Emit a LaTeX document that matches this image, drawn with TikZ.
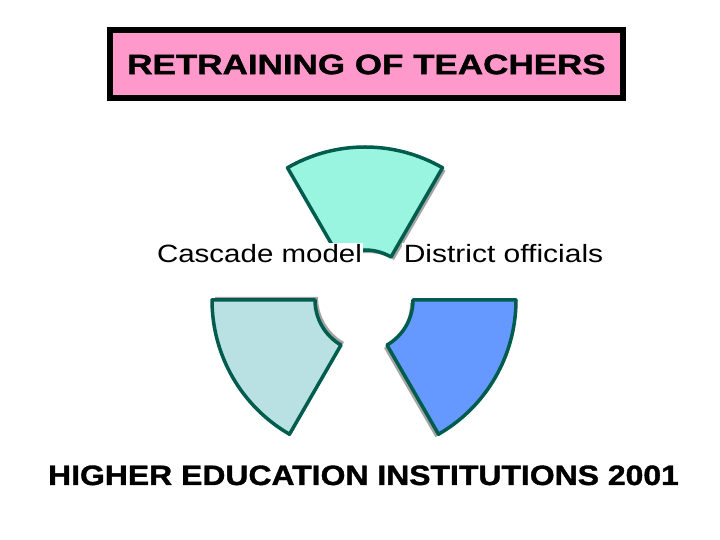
\documentclass[tikz,border=0pt]{standalone}
\usepackage{fontspec}
\setmainfont{Liberation Sans}
\newfontfamily\negrita{Liberation Sans Bold}[FakeBold=1.2]
\usepackage{tikz}
\definecolor{rosa}{RGB}{255,153,204}
\definecolor{verdeborde}{RGB}{0,92,76}
\definecolor{aguamarina}{RGB}{153,245,224}
\definecolor{celeste}{RGB}{185,224,227}
\definecolor{azul}{RGB}{102,153,255}
\definecolor{gris}{RGB}{165,165,165}

\begin{document}
\begin{tikzpicture}[x=1pt,y=1pt,
		pieza/.style={draw=verdeborde,line width=3.5pt,line join=round},
		sombra/.style={fill=gris},
		etiqueta/.style={fill=white,inner sep=1.5pt,anchor=base,font=\fontsize{25}{30}\selectfont},
		titular/.style={font=\negrita\fontsize{28}{34}\selectfont}]
		\useasboundingbox (0,0) rectangle (720,540);
		% Titulo
		\node(titulo)[titular,draw=black,line width=6pt,fill=rosa,minimum width=513pt,minimum height=68pt,inner sep=0pt] at (366.5,475.5) {\scalebox{1.25}[1]{RETRAINING OF TEACHERS}};
		% Pieza superior
		\fill[sombra] (368,235) ++(60:155) arc[start angle=60,end angle=120,radius=155] -- ++(120:-103) arc[start angle=120,end angle=60,radius=52] -- cycle;
		\draw[pieza,fill=aguamarina] (365,238) ++(60:155) arc[start angle=60,end angle=120,radius=155] -- ++(120:-103) arc[start angle=120,end angle=60,radius=52] -- cycle;
		% Pieza izquierda
		\fill[sombra] (370,243) ++(180:155) arc[start angle=180,end angle=240,radius=155] -- ++(240:-103) arc[start angle=240,end angle=180,radius=52] -- cycle;
		\draw[pieza,fill=celeste] (367,240) ++(180:155) arc[start angle=180,end angle=240,radius=155] -- ++(240:-103) arc[start angle=240,end angle=180,radius=52] -- cycle;
		% Pieza derecha
		\fill[sombra] (358,237) ++(300:155) arc[start angle=300,end angle=360,radius=155] -- ++(360:-103) arc[start angle=360,end angle=300,radius=52] -- cycle;
		\draw[pieza,fill=azul] (361,240) ++(300:155) arc[start angle=300,end angle=360,radius=155] -- ++(360:-103) arc[start angle=360,end angle=300,radius=52] -- cycle;
		% Etiquetas
		\node(cascada)[etiqueta] at (259.5,277) {\scalebox{1.18}[1]{Cascade model}};
		\node(distrito)[etiqueta] at (503.5,277) {\scalebox{1.2}[1]{District officials}};
		% Pie
		\node(instituciones)[titular,anchor=base] at (363.5,55) {\scalebox{1.14}[1]{HIGHER EDUCATION INSTITUTIONS 2001}};
\end{tikzpicture}
\end{document}
